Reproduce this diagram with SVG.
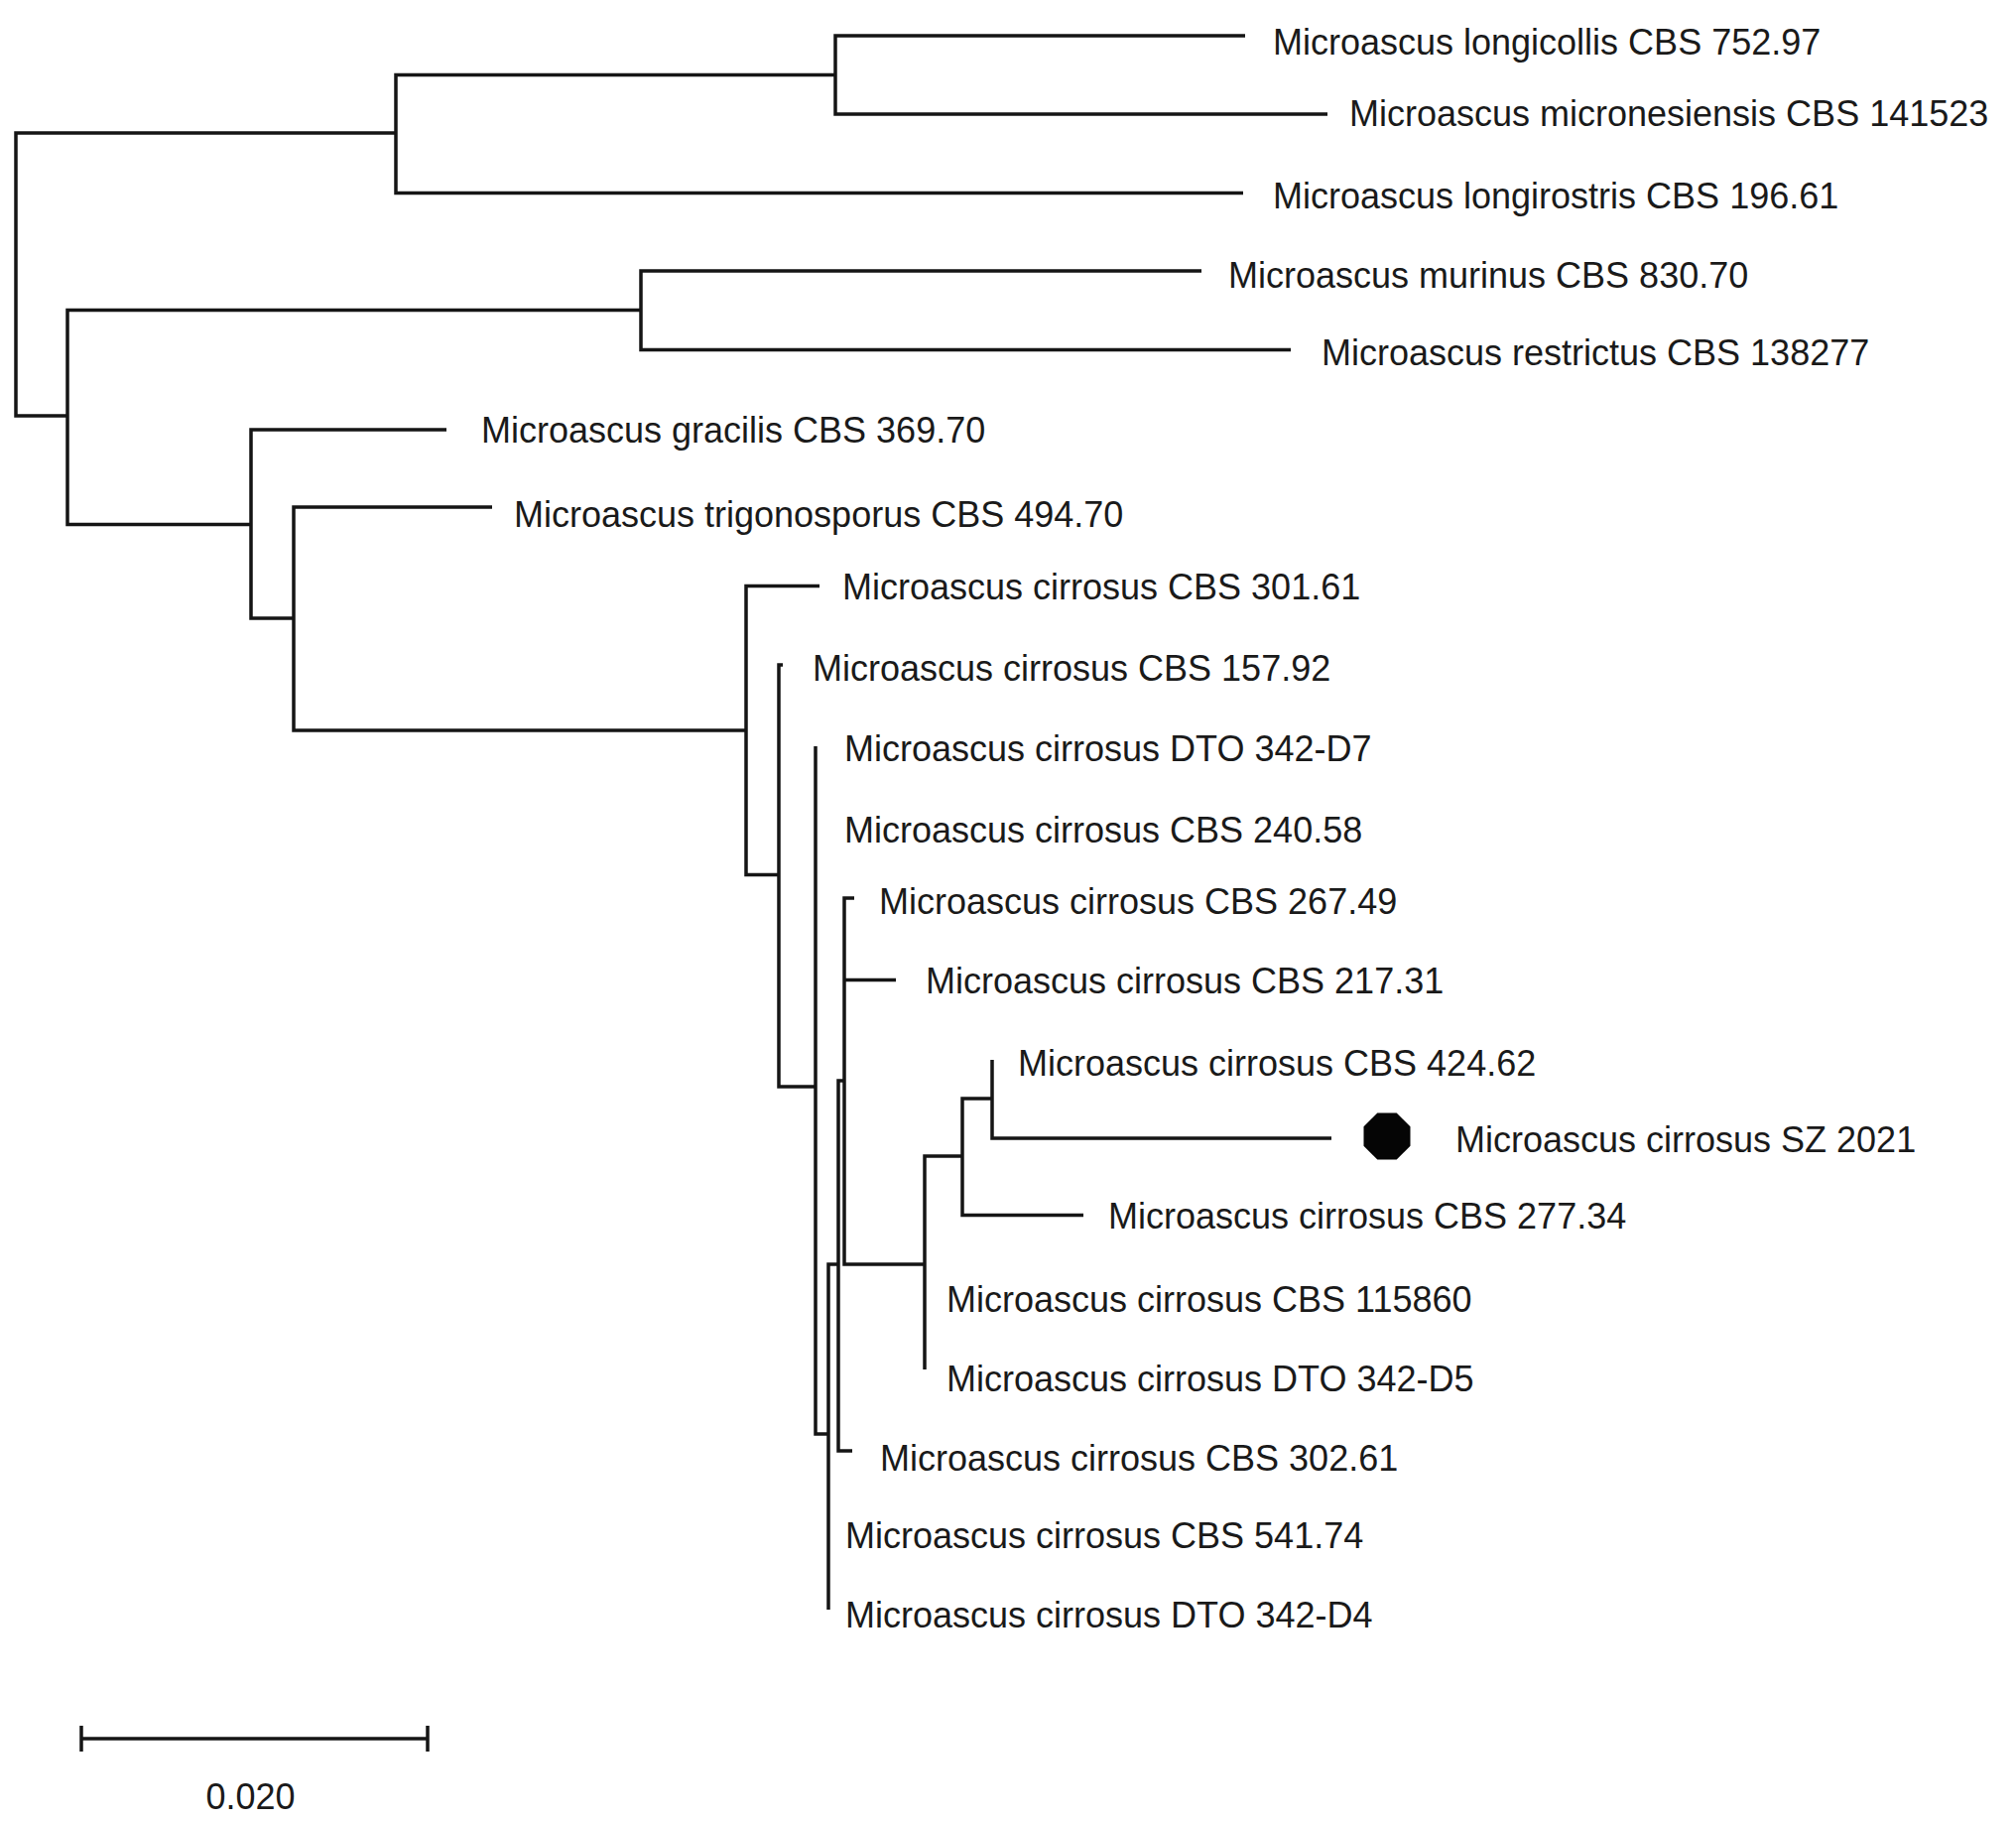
<svg xmlns="http://www.w3.org/2000/svg" width="2032" height="1836" viewBox="0 0 2032 1836">
<style>
.br{fill:none;stroke:#151515;stroke-width:3.5;stroke-linejoin:miter;stroke-linecap:butt}
.lb{font-family:"Liberation Sans",Arial,Helvetica,sans-serif;font-size:36px;fill:#1a1a1a}
</style>
<rect width="2032" height="1836" fill="#ffffff"/>
<g id="connectors">
<path class="br" d="M398,134 H16 V419 H68"/>
<path class="br" d="M842,75.5 H399 V194.5 H1253"/>
<path class="br" d="M1255,36 H842 V115 H1338"/>
<path class="br" d="M646,312.5 H68 V528.5 H253"/>
<path class="br" d="M1211,273 H646 V352.5 H1301"/>
<path class="br" d="M450,433 H253 V623 H296"/>
<path class="br" d="M496,511 H296 V736 H752"/>
<path class="br" d="M826,590.5 H752 V881.5 H785"/>
<path class="br" d="M789,670 H785 V1095 H822"/>
<path class="br" d="M822,752 V1445 H835"/>
<path class="br" d="M845,1274 H835 V1622"/>
<path class="br" d="M851,1089 H845 V1462 H859"/>
<path class="br" d="M861,905 H851 V1274 H932"/>
<path class="br" d="M851,987.5 H903"/>
<path class="br" d="M970,1165 H932 V1380"/>
<path class="br" d="M1000,1107 H970 V1224.5 H1092"/>
<path class="br" d="M1000,1068 V1147 H1342"/>
</g>
<g id="n-longicollis"><text class="lb" x="1283" y="54.5">Microascus longicollis CBS 752.97</text></g>
<g id="n-micronesiensis"><text class="lb" x="1360" y="127">Microascus micronesiensis CBS 141523</text></g>
<g id="n-longirostris"><text class="lb" x="1283" y="209.5">Microascus longirostris CBS 196.61</text></g>
<g id="n-murinus"><text class="lb" x="1238" y="290">Microascus murinus CBS 830.70</text></g>
<g id="n-restrictus"><text class="lb" x="1332" y="368">Microascus restrictus CBS 138277</text></g>
<g id="n-gracilis"><text class="lb" x="485" y="446">Microascus gracilis CBS 369.70</text></g>
<g id="n-trigonosporus"><text class="lb" x="518" y="531">Microascus trigonosporus CBS 494.70</text></g>
<g id="n-cbs30161"><text class="lb" x="849" y="604">Microascus cirrosus CBS 301.61</text></g>
<g id="n-cbs15792"><text class="lb" x="819" y="685.5">Microascus cirrosus CBS 157.92</text></g>
<g id="n-dto342d7"><text class="lb" x="851" y="767">Microascus cirrosus DTO 342-D7</text></g>
<g id="n-cbs24058"><text class="lb" x="851" y="849">Microascus cirrosus CBS 240.58</text></g>
<g id="n-cbs26749"><text class="lb" x="886" y="920.5">Microascus cirrosus CBS 267.49</text></g>
<g id="n-cbs21731"><text class="lb" x="933" y="1001">Microascus cirrosus CBS 217.31</text></g>
<g id="n-cbs42462"><text class="lb" x="1026" y="1083.5">Microascus cirrosus CBS 424.62</text></g>
<g id="n-sz2021">
<polygon points="1421.5,1135.3 1421.5,1154.7 1407.7,1168.5 1388.3,1168.5 1374.5,1154.7 1374.5,1135.3 1388.3,1121.5 1407.7,1121.5" fill="#050505"/>
<text class="lb" x="1467" y="1160.5">Microascus cirrosus SZ 2021</text>
</g>
<g id="n-cbs27734"><text class="lb" x="1117" y="1238">Microascus cirrosus CBS 277.34</text></g>
<g id="n-cbs115860"><text class="lb" x="954" y="1322">Microascus cirrosus CBS 115860</text></g>
<g id="n-dto342d5"><text class="lb" x="954" y="1402">Microascus cirrosus DTO 342-D5</text></g>
<g id="n-cbs30261"><text class="lb" x="887" y="1482">Microascus cirrosus CBS 302.61</text></g>
<g id="n-cbs54174"><text class="lb" x="852" y="1559.5">Microascus cirrosus CBS 541.74</text></g>
<g id="n-dto342d4"><text class="lb" x="852" y="1639.5">Microascus cirrosus DTO 342-D4</text></g>
<g id="scalebar">
<path class="br" d="M82,1752 H431 M82,1739 V1765 M431,1739 V1765"/>
<text class="lb" x="252.5" y="1823" text-anchor="middle">0.020</text>
</g>
</svg>
